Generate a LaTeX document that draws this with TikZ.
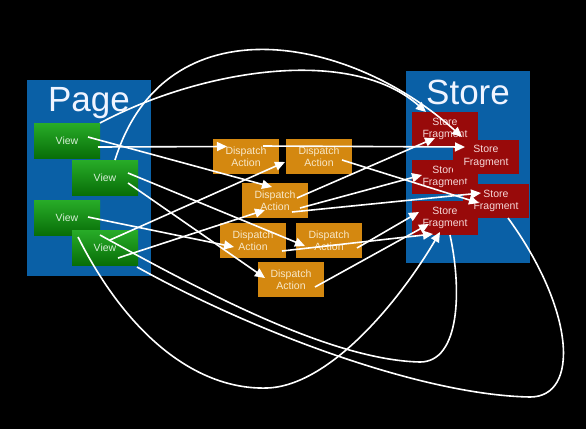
\documentclass[tikz,border=0pt]{standalone}
\usepackage{fontspec}
\setmainfont{Liberation Sans}
\usetikzlibrary{arrows.meta,calc}
\definecolor{bluebox}{RGB}{10,96,166}
\definecolor{orangebox}{RGB}{212,136,16}
\definecolor{redbox}{RGB}{152,10,10}
\definecolor{viewtop}{RGB}{40,172,40}
\definecolor{viewbot}{RGB}{8,110,8}
\definecolor{viewtext}{RGB}{215,240,215}
\definecolor{disptext}{RGB}{248,232,200}
\definecolor{fragtext}{RGB}{245,215,215}
\definecolor{labeltext}{RGB}{240,244,255}
\begin{document}
\begin{tikzpicture}[x=1pt,y=-1pt,
  container/.style={fill=bluebox,draw=none,inner sep=0pt,minimum width=124pt},
  biglabel/.style={text=labeltext,font=\fontsize{35}{40}\selectfont,inner sep=0pt},
  viewbox/.style={top color=viewtop,bottom color=viewbot,draw=none,minimum width=66pt,minimum height=35pt,inner sep=0pt,text=viewtext,font=\fontsize{10.5}{12}\selectfont},
  dispbox/.style={fill=orangebox,draw=none,minimum width=66pt,minimum height=35pt,inner sep=0pt,align=center,text=disptext,font=\fontsize{10.5}{12.5}\selectfont},
  fragbox/.style={fill=redbox,draw=none,minimum width=66pt,minimum height=34pt,inner sep=0pt,align=center,text=fragtext,font=\fontsize{10.5}{12.5}\selectfont},
  conn/.style={draw=white,line width=1.6pt,-{Triangle[length=10pt,width=9pt]}},
  plaincurve/.style={draw=white,line width=1.6pt}
]
\fill[black] (0,0) rectangle (586,429);
\useasboundingbox (0,0) rectangle (586,429);

% containers
\node[container,minimum height=196pt] (page) at (89,178) {};
\node[biglabel] (pagelabel) at (89,103) {Page};
\node[container,minimum height=192pt] (store) at (468,167) {};
\node[biglabel] (storelabel) at (468,92) {Store};

% views
\node[viewbox] (v1) at (67,140.5) {View};
\node[viewbox] (v2) at (105,177.5) {View};
\node[viewbox] (v3) at (67,217.5) {View};
\node[viewbox] (v4) at (105,247.5) {View};

% store fragments
\node[fragbox] (sf1) at (445,129) {Store\\Fragment};
\node[fragbox] (sf3) at (445,177) {Store\\Fragment};
\node[fragbox] (sf5) at (445,218) {Store\\Fragment};
\node[fragbox] (sf2) at (486,156.5) {Store\\Fragment};
\node[fragbox] (sf4) at (496,201) {Store\\Fragment};

% dispatch actions
\node[dispbox] (d1) at (246,156.5) {Dispatch\\Action};
\node[dispbox] (d2) at (319,156.5) {Dispatch\\Action};
\node[dispbox] (d3) at (275,200.5) {Dispatch\\Action};
\node[dispbox] (d4) at (253,240.5) {Dispatch\\Action};
\node[dispbox] (d5) at (329,240.5) {Dispatch\\Action};
\node[dispbox] (d6) at (291,279.5) {Dispatch\\Action};

% views -> dispatch actions
\draw[conn] ($(v1)+(21,-3.5)$) -- ($(d3)+(-3,-13.5)$);
\draw[conn] ($(v1)+(31,6.5)$) -- ($(d1)+(-19,-10)$);
\draw[conn] ($(v2)+(23,-4.5)$) -- ($(d5)+(-24,5.5)$);
\draw[conn] ($(v2)+(23,5.5)$) -- ($(d6)+(-26,-1.5)$);
\draw[conn] ($(v3)+(21,-0.5)$) -- ($(d4)+(-19,6.5)$);
\draw[conn] ($(v4)+(5,-7.5)$) -- ($(d2)+(-34,5.5)$);
\draw[conn] ($(v4)+(13,10.5)$) -- ($(d3)+(-10,9.5)$);

% dispatch actions -> store fragments
\draw[conn] ($(d1)+(17,-10.5)$) -- ($(sf2)+(-21,-9.5)$);
\draw[conn] ($(d2)+(23,3.5)$) -- ($(sf4)+(-17,2)$);
\draw[conn] ($(d3)+(22,-2.5)$) -- ($(sf1)+(-10,9)$);
\draw[conn] ($(d3)+(25,7.5)$) -- ($(sf3)+(-23,-2)$);
\draw[conn] ($(d3)+(17,11.5)$) -- ($(sf4)+(-15,-8)$);
\draw[conn] ($(d4)+(29,10.5)$) -- ($(sf5)+(-12,16)$);
\draw[conn] ($(d5)+(28,7.5)$) -- ($(sf5)+(-26,-6)$);
\draw[conn] ($(d6)+(24,7.5)$) -- ($(sf5)+(-16,6)$);

% big arcs over the top
\draw[conn] ($(v2)+(10,-17.5)$) .. controls (165,0) and (350,35) .. ($(sf2)+(-24,-19.5)$);
\draw[conn] ($(v1)+(33,-17.5)$) .. controls (200,70) and (350,45) .. ($(sf1)+(-19,-17)$);

% big curves underneath
\draw[conn] ($(v4)+(-27,-10.5)$) .. controls (130,340) and (200,390) .. (267,388)
  .. controls (330,386) and (400,300) .. ($(sf5)+(-5,14)$);
\draw[plaincurve] ($(v4)+(-5,-12.5)$) .. controls (200,290) and (330,360) .. (420,362)
  .. controls (460,362) and (462,290) .. ($(sf5)+(5,17)$);
\draw[plaincurve] ($(v4)+(32,19.5)$) .. controls (250,330) and (420,395) .. (530,397)
  .. controls (580,397) and (575,310) .. ($(sf4)+(12,17)$);
\end{tikzpicture}
\end{document}
